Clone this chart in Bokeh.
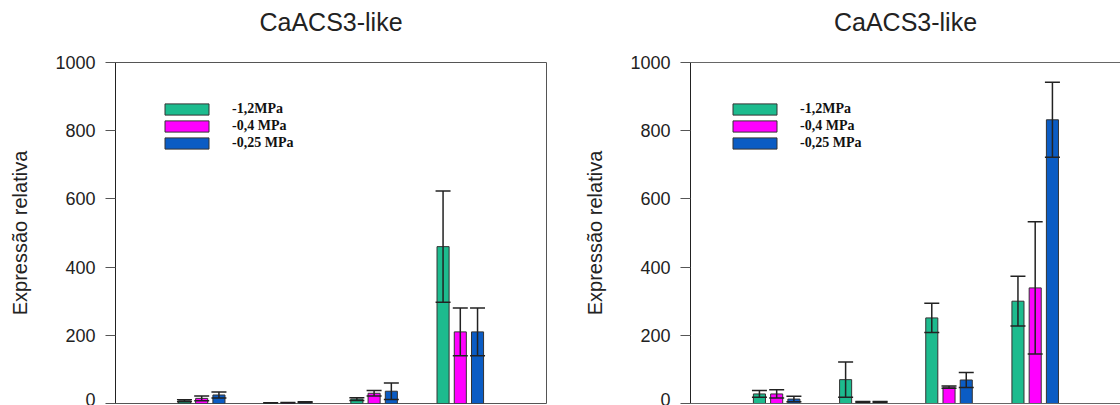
from bokeh.plotting import figure
from bokeh.models import (ColumnDataSource, Whisker, TeeHead, LinearAxis, Range1d, FixedTicker,
                          Legend, LegendItem, Title)
from bokeh.layouts import row
from bokeh.embed import file_html
from bokeh.resources import INLINE

# ---------------- data ----------------
title_text = "CaACS3-like"
ylabel = "Expressão relativa"
series_names = ["-1,2MPa", "-0,4 MPa", "-0,25 MPa"]
series_colors = ["#1DBB8E", "#FF00FF", "#0B5CC4"]
groups = [1, 2, 3, 4]
y_ticks = [0, 200, 400, 600, 800, 1000]

left_green = [8, 1, 13, 460]
left_green_err = [3, 1, 4, 163]
left_magenta = [15, 2, 30, 210]
left_magenta_err = [7, 1, 8, 70]
left_blue = [25, 4, 36, 210]
left_blue_err = [9, 1, 24, 70]

right_green = [28, 70, 251, 300]
right_green_err = [10, 52, 43, 73]
right_magenta = [28, 5, 48, 339]
right_magenta_err = [12, 1, 3, 194]
right_blue = [13, 5, 69, 832]
right_blue_err = [8, 1, 22, 110]

offsets = [-0.2, 0.0, 0.2]
bar_w = 0.14


def make_panel(width, border_left, border_right, x_end, series, legend_x, right_outline):
    p = figure(width=width, height=405, output_backend="svg", toolbar_location=None,
               x_range=Range1d(0, x_end), y_range=Range1d(0, 1000),
               min_border_left=border_left, min_border_right=border_right,
               min_border_top=62, min_border_bottom=2)
    p.grid.visible = False
    p.background_fill_color = "white"
    p.border_fill_color = "white"

    p.xaxis.visible = False
    if right_outline:
        p.outline_line_color = "#555555"
        p.outline_line_width = 1
    else:
        p.outline_line_color = None
        for loc in ("above", "below"):
            ax = LinearAxis(major_tick_line_color=None, minor_tick_line_color=None,
                            major_label_text_font_size="0px", major_label_standoff=0,
                            major_tick_out=0, minor_tick_out=0,
                            axis_line_color="#666666", ticker=FixedTicker(ticks=[]))
            p.add_layout(ax, loc)

    p.title.text = title_text
    p.title.align = "center"
    p.title.text_font = "Liberation Sans"
    p.title.text_font_size = "25px"
    p.title.text_font_style = "normal"
    p.title.text_color = "#222222"
    p.title.standoff = 9
    # spacer between the title and the frame
    p.add_layout(Title(text=" ", text_font_size="1px", standoff=19), "above")

    yax = p.yaxis[0]
    yax.ticker = FixedTicker(ticks=y_ticks)
    yax.axis_label = ylabel
    yax.axis_label_text_font = "Liberation Sans"
    yax.axis_label_text_font_size = "20px"
    yax.axis_label_text_font_style = "normal"
    yax.axis_label_text_color = "#222222"
    yax.axis_label_standoff = 21
    yax.major_label_text_font = "Liberation Sans"
    yax.major_label_text_font_size = "18px"
    yax.major_label_text_color = "#222222"
    yax.major_label_standoff = 10
    yax.major_tick_out = 10
    yax.major_tick_in = 0
    yax.minor_tick_line_color = None
    yax.axis_line_color = "#222222"
    yax.major_tick_line_color = "#555555"

    items = []
    for (vals, errs), off, color, name in zip(series, offsets, series_colors, series_names):
        xs = [g + off for g in groups]
        src = ColumnDataSource(dict(x=xs, top=vals,
                                    upper=[v + e for v, e in zip(vals, errs)],
                                    lower=[v - e for v, e in zip(vals, errs)]))
        r = p.vbar(x="x", top="top", bottom=0, width=bar_w, source=src,
                   fill_color=color, line_color="#333333", line_width=1)
        items.append(LegendItem(label=name, renderers=[r]))
        w = Whisker(base="x", upper="upper", lower="lower", source=src,
                    line_color="#222222", line_width=1.5, level="overlay",
                    upper_head=TeeHead(size=15, line_color="#222222", line_width=1.5),
                    lower_head=TeeHead(size=15, line_color="#222222", line_width=1.5))
        p.add_layout(w)

    leg = Legend(items=items, location=(legend_x, 252))
    leg.glyph_width = 55
    leg.glyph_height = 14
    leg.label_height = 11
    leg.spacing = 1
    leg.padding = 0
    leg.margin = 0
    leg.label_standoff = 18
    leg.label_text_font = "Liberation Serif"
    leg.label_text_font_style = "bold"
    leg.label_text_font_size = "14px"
    leg.label_text_color = "#111111"
    leg.border_line_color = None
    leg.background_fill_alpha = 0
    p.add_layout(leg)
    return p


p1 = make_panel(575, 115, 29, 5.0,
                [(left_green, left_green_err), (left_magenta, left_magenta_err), (left_blue, left_blue_err)],
                44, True)
p2 = make_panel(545, 115, 0, 4.99,
                [(right_green, right_green_err), (right_magenta, right_magenta_err), (right_blue, right_blue_err)],
                37, False)

layout = row(p1, p2)
open("out.html", "w").write(file_html(layout, INLINE))
